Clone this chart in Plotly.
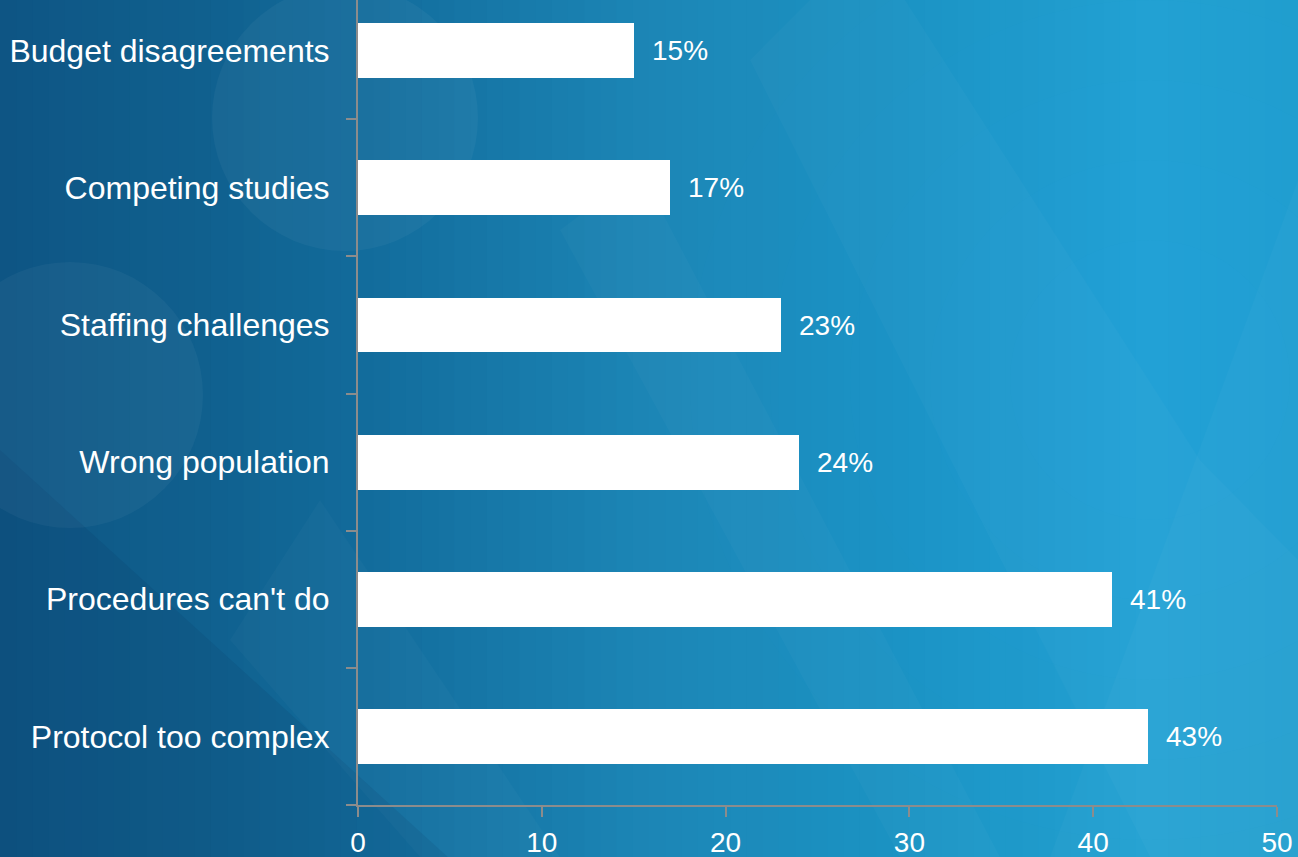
import plotly.graph_objects as go

# data (bottom to top)
reasons = ["Protocol too complex", "Procedures can't do", "Wrong population",
           "Staffing challenges", "Competing studies", "Budget disagreements"]
percent = [43, 41, 24, 23, 17, 15]
x_ticks = [0, 10, 20, 30, 40, 50]

W, H = 1298, 857
L, R, T, B = 358, 21, 0, 52
pw, ph = W - L - R, H - T - B


def px(x):
    return (x - L) / pw


def py(y):
    return (H - B - y) / ph


def hex2rgb(h):
    h = h.lstrip("#")
    return [int(h[i:i + 2], 16) for i in (0, 2, 4)]


# horizontal background gradient stops (pixel x, colour)
stops = [(0, "#0e5584"), (200, "#10608e"), (360, "#126b9b"), (650, "#1c86b6"),
         (900, "#1b93c3"), (1150, "#22a1d1"), (1298, "#209ecd")]

shapes = []
n = 80
for i in range(n):
    x0 = W * i / n
    x1 = W * (i + 1) / n + 1
    xm = (x0 + x1) / 2
    for (a, ca), (b, cb) in zip(stops[:-1], stops[1:]):
        if a <= xm <= b:
            t = (xm - a) / (b - a)
            c = [round(u + (v - u) * t) for u, v in zip(hex2rgb(ca), hex2rgb(cb))]
            break
    shapes.append(dict(type="rect", xref="paper", yref="paper", layer="below",
                       x0=px(x0), x1=px(x1), y0=py(H + 2), y1=py(-2),
                       fillcolor="rgb(%d,%d,%d)" % tuple(c), line_width=0))

# soft glow on the right
for r in [460, 380, 300, 220, 140]:
    shapes.append(dict(type="circle", xref="paper", yref="paper", layer="below",
                       x0=px(1150 - r), x1=px(1150 + r), y0=py(380 + r), y1=py(380 - r),
                       fillcolor="rgba(50,190,235,0.025)", line_width=0))

# darker bottom-left corner
shapes.append(dict(type="path", xref="paper", yref="paper", layer="below",
                   path="M %f,%f L %f,%f L %f,%f Z" % (px(0), py(450), px(0), py(H + 2), px(450), py(H + 2)),
                   fillcolor="rgba(5,40,80,0.10)", line_width=0))

# decorative circles
for cx, cy, r in [(345, 118, 133), (70, 395, 133)]:
    shapes.append(dict(type="circle", xref="paper", yref="paper", layer="below",
                       x0=px(cx - r), x1=px(cx + r), y0=py(cy + r), y1=py(cy - r),
                       fillcolor="rgba(255,255,255,0.04)", line_width=0))

# decorative diagonal bands
bands = [
    [(750, 60), (810, 0), (905, 0), (1200, 460), (1298, 560), (1298, 857), (1150, 857)],
    [(560, 230), (640, 170), (1000, 857), (900, 857)],
    [(230, 640), (320, 500), (560, 857), (420, 857)],
    [(1298, 180), (1050, 857), (1298, 857)],
]
for poly in bands:
    path = "M " + " L ".join("%f,%f" % (px(x), py(y)) for x, y in poly) + " Z"
    shapes.append(dict(type="path", xref="paper", yref="paper", layer="below",
                       path=path, fillcolor="rgba(255,255,255,0.025)", line_width=0))

# x axis line runs a little past the y axis
shapes.append(dict(type="line", xref="paper", yref="paper", layer="above",
                   x0=px(348), x1=0, y0=0, y1=0, line=dict(color="#8c8c8c", width=2)))

fig = go.Figure(go.Bar(
    x=percent, y=reasons, orientation="h", width=0.4,
    marker=dict(color="white", line_width=0), hoverinfo="x+y",
))

for v, r in zip(percent, reasons):
    fig.add_annotation(x=v, y=r, text="%d%%" % v, showarrow=False, xanchor="left",
                       xshift=16, font=dict(size=28, color="white"))

fig.update_layout(
    width=W, height=H,
    margin=dict(l=L, r=R, t=T, b=B, autoexpand=False),
    paper_bgcolor="#137aa8", plot_bgcolor="rgba(0,0,0,0)",
    font=dict(family="Liberation Sans, Arial, sans-serif", color="white"),
    shapes=shapes, showlegend=False, bargap=0,
)
fig.update_xaxes(range=[0, 50], tickvals=x_ticks, showgrid=False, zeroline=False,
                 showline=True, linecolor="#8c8c8c", linewidth=2, automargin=False,
                 ticks="outside", ticklen=10, tickwidth=2, tickcolor="#8c8c8c",
                 tickfont=dict(size=28, color="white"), ticklabelstandoff=1)
fig.update_yaxes(range=[-0.5, 5.37], categoryorder="array", categoryarray=reasons,
                 showgrid=False, zeroline=False, showline=True, linecolor="#8c8c8c",
                 linewidth=2, ticks="outside", ticklen=10, tickwidth=2, tickcolor="#8c8c8c",
                 tickson="boundaries", tickfont=dict(size=32, color="white"),
                 ticklabelstandoff=20, automargin=False)

fig.write_html("out.html", config={"displayModeBar": False},
               post_script="document.body.style.margin='0';")
